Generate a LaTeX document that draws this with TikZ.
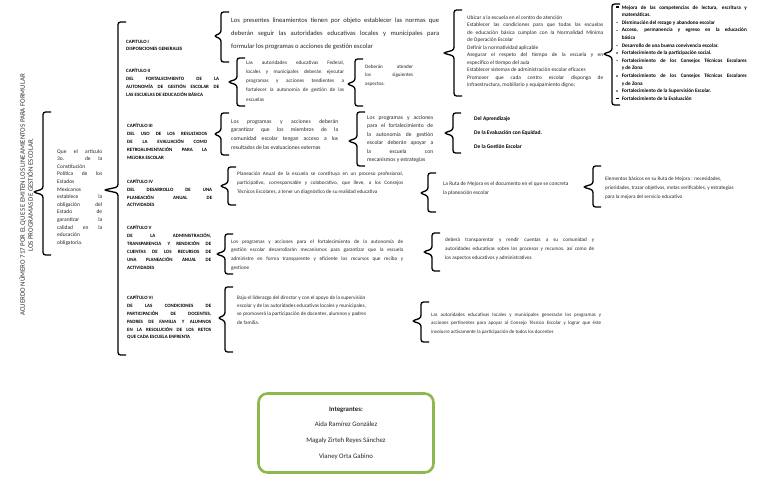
\documentclass[tikz,border=0pt]{standalone}
\usepackage{fontspec}
\setmainfont{Carlito}
\usetikzlibrary{positioning}

\definecolor{verde}{RGB}{141,184,78}

\tikzset{
  llave/.style={line width=1.3pt, rounded corners=2.5pt},
  capit/.style={anchor=north west, inner sep=0pt, align=justify, font=\fontsize{4.9}{8}\selectfont\bfseries},
  texto/.style={anchor=north west, inner sep=0pt, align=justify, text=black!85},
}

% llave: x del trazo, arriba, abajo, y de la punta, profundidad
\newcommand{\llave}[5]{%
  \draw[llave] (#1+8,#2) -- (#1,#2) -- (#1,#4-3) -- (#1-#5,#4) -- (#1,#4+3) -- (#1,#3) -- (#1+8,#3);}
\newcommand{\mrk}{\textcolor{black!45}{\rule[0.3ex]{2pt}{1.4pt}}}
\newcommand{\mrkb}{\textcolor{black}{\rule[0.3ex]{2.6pt}{1.8pt}}}

\begin{document}
\begin{tikzpicture}[x=1pt, y=-1pt]
        \useasboundingbox (0,0) rectangle (768,497);
        \fill[white] (0,0) rectangle (768,497);

        \node[rotate=90, align=center, font=\fontsize{6.9}{8}\selectfont, text=black!80] (titulo) at (26,195)
        {ACUERDO NÚMERO 717 POR EL QUE SE EMITEN LOS LINEAMIENTOS PARA FORMULAR\\LOS PROGRAMAS DE GESTIÓN ESCOLAR.};
        \llave{43}{112}{255}{192}{10}
        \node[texto, text width=45pt, font=\fontsize{5.5}{7.6}\selectfont] (considerando) at (57,149)
        {Que el artículo\linebreak 3o. de la\linebreak Constitución\linebreak Política de los\linebreak Estados\linebreak
        Mexicanos\linebreak establece la\linebreak obligación del\linebreak Estado de\linebreak garantizar la\linebreak
        calidad en la\linebreak educación\linebreak obligatoria.};

        \llave{118}{22}{355}{190}{14}

        % capitulos
        \node[capit, font=\fontsize{4.9}{7}\selectfont\bfseries] (cap1) at (126,40.5) {CAPITULO I\\DISPOSICIONES GENERALES};
        \node[capit, text width=93pt] (cap2) at (126,68.5) {CAPÍTULO II\\DEL FORTALECIMIENTO DE LA\linebreak AUTONOMÍA DE GESTIÓN ESCOLAR DE\linebreak LAS ESCUELAS DE EDUCACIÓN BÁSICA};
        \node[capit, text width=80pt] (cap3) at (127,123.5) {CAPÍTULO III\\DEL USO DE LOS RESULTADOS\linebreak DE LA EVALUACIÓN COMO\linebreak RETROALIMENTACIÓN PARA LA\linebreak MEJORA ESCOLAR};
        \node[capit, text width=85pt, font=\fontsize{4.9}{7.7}\selectfont\bfseries] (cap4) at (127,179.5) {CAPÍTULO IV\\DEL DESARROLLO DE UNA\linebreak PLANEACIÓN ANUAL DE\linebreak ACTIVIDADES};
        \node[capit, text width=84pt] (cap5) at (127,225.5) {CAPÍTULO V\\DE LA ADMINISTRACIÓN,\linebreak TRANSPARENCIA Y RENDICIÓN DE\linebreak CUENTAS DE LOS RECURSOS DE\linebreak UNA PLANEACIÓN ANUAL DE\linebreak ACTIVIDADES};
        \node[capit, text width=84pt, font=\fontsize{4.9}{7.8}\selectfont\bfseries] (cap6) at (127,295.5) {CAPÍTULO VI\\DE LAS CONDICIONES DE\linebreak PARTICIPACIÓN DE DOCENTES,\linebreak PADRES DE FAMILIA Y ALUMNOS\linebreak EN LA RESOLUCIÓN DE LOS RETOS\linebreak QUE CADA ESCUELA ENFRENTA};

        % capitulo I y II
        \llave{221}{12}{62}{36}{7}
        \node[texto, text width=208pt, font=\fontsize{6.6}{13}\selectfont] (t1) at (231,17.5)
        {Los presentes lineamientos tienen por objeto establecer las normas que\linebreak deberán seguir las autoridades educativas locales y municipales para\linebreak formular los programas o acciones de gestión escolar};
        \llave{237}{58}{106}{82}{9}
        \node[texto, text width=98pt, font=\fontsize{5.2}{9.2}\selectfont] (t2a) at (246,60.5)
        {Las autoridades educativas Federal,\linebreak locales y municipales deberán ejecutar\linebreak programas y acciones tendientes a\linebreak fortalecer la autonomía de gestión de las\linebreak escuelas};
        \llave{355}{59}{106}{84}{8}
        \node[texto, text width=48pt, font=\fontsize{5.1}{8.5}\selectfont] (t2b) at (365,64.5)
        {Deberán atender\linebreak los siguientes\linebreak aspectos:};
        \llave{454}{10}{96}{53}{11}
        \node[texto, text width=136pt, font=\fontsize{5.4}{7.5}\selectfont] (t2c) at (467,15.3)
        {Ubicar a la escuela en el centro de atención\\
        Establecer las condiciones para que todas las escuelas\linebreak de educación básica cumplan con la Normalidad Mínima\linebreak de Operación Escolar\\
        Definir la normatividad aplicable\\
        Asegurar el respeto del tiempo de la escuela y en\linebreak específico el tiempo del aula\\
        Establecer sistemas de administración escolar eficaces\\
        Promover que cada centro escolar disponga de\linebreak infraestructura, mobiliario y equipamiento digno;};
        \llave{612}{4}{105}{54}{9}
        \node[texto, text=black, font=\fontsize{5.2}{7.6}\selectfont\bfseries] (t2d) at (616,3.5)
        {\begin{tabular}{@{}l@{\hspace{3pt}}p{125pt}@{}}
        \mrkb & Mejora de las competencias de lectura, escritura y\linebreak matemáticas.\\
        \mrk & Disminución del rezago y abandono escolar\\
        \mrk & Acceso, permanencia y egreso en la educación\linebreak básica\\
        \mrk & Desarrollo de una buena convivencia escolar.\\
        \mrk & Fortalecimiento de la participación social.\\
        \mrk & Fortalecimiento de los Consejos Técnicos Escolares\linebreak y de Zona\\
        \mrk & Fortalecimiento de los Consejos Técnicos Escolares\linebreak y de Zona\\
        \mrk & Fortalecimiento de la Supervisión Escolar.\\
        \mrkb & Fortalecimiento de la Evaluación
        \end{tabular}};

        % capitulo III
        \llave{221}{113}{155}{134}{7}
        \node[texto, text width=107pt, font=\fontsize{5.6}{8.6}\selectfont] (t3a) at (231,119.2)
        {Los programas y acciones deberán\linebreak garantizar que los miembros de la\linebreak comunidad escolar tengan acceso a los\linebreak resultados de las evaluaciones externas};
        \llave{357}{112}{166}{141}{9}
        \node[texto, text width=66pt, font=\fontsize{5.6}{8.4}\selectfont] (t3b) at (367,115.5)
        {Los programas y acciones\linebreak para el fortalecimiento de\linebreak la autonomía de gestión\linebreak escolar deberán apoyar a\linebreak la escuela con\linebreak mecanismos y estrategias};
        \llave{453}{113}{153}{133}{9}
        \node[texto, align=left, text=black, font=\fontsize{5.5}{14}\selectfont\bfseries] (t3c) at (474,116.5)
        {Del Aprendizaje\\De la Evaluación con Equidad.\\De la Gestión Escolar};

        % capitulo IV
        \llave{228}{167}{205}{186}{8}
        \node[texto, text width=166pt, font=\fontsize{5.2}{9}\selectfont] (t4a) at (237,171.4)
        {Planeación Anual de la escuela se constituya en un proceso profesional,\linebreak participativo, corresponsable y colaborativo, que lleve, a los Consejos\linebreak Técnicos Escolares, a tener un diagnóstico de su realidad educativa};
        \llave{428}{173}{212}{193}{8}
        \node[texto, align=left, font=\fontsize{5.4}{9}\selectfont] (t4b) at (443,181.3)
        {La Ruta de Mejora es el documento en el que se concreta\\la planeación escolar};
        \llave{593}{166}{207}{187}{10}
        \node[texto, align=left, font=\fontsize{5.2}{9}\selectfont] (t4c) at (605,176.4)
        {Elementos básicos en su Ruta de Mejora : necesidades,\\prioridades, trazar objetivos, metas verificables, y estrategias\\para la mejora del servicio educativo};

        % capitulo V
        \llave{225}{234}{274}{254}{9}
        \node[texto, text width=172pt, font=\fontsize{5.2}{8.7}\selectfont] (t5a) at (231,239.4)
        {Los programas y acciones para el fortalecimiento de la autonomía de\linebreak gestión escolar desarrollarán mecanismos para garantizar que la escuela\linebreak administre en forma transparente y eficiente los recursos que reciba y\linebreak gestione};
        \llave{432}{233}{271}{252}{9}
        \node[texto, text width=149pt, font=\fontsize{5.2}{9}\selectfont] (t5b) at (445,237.4)
        {deberá transparentar y rendir cuentas a su comunidad y\linebreak autoridades educativas sobre los procesos y recursos, así como de\linebreak los aspectos educativos y administrativos};

        % capitulo VI
        \llave{225}{287}{352}{318}{7}
        \node[texto, align=left, font=\fontsize{5.2}{8.3}\selectfont] (t6a) at (237,295.4)
        {Bajo el liderazgo del director y con el apoyo de la supervisión\\escolar y de las autoridades educativas locales y municipales,\\se promoverá la participación de docentes, alumnos y padres\\de familia.};
        \llave{421}{302}{342}{321}{9}
        \node[texto, text width=170pt, font=\fontsize{5}{8.8}\selectfont] (t6b) at (431,312.5)
        {Las autoridades educativas locales y municipales generarán los programas y\linebreak acciones pertinentes para apoyar al Consejo Técnico Escolar y lograr que éste\linebreak involucre activamente la participación de todos los docentes};

        % integrantes
        \node[draw=verde, line width=2.6pt, rounded corners=9pt, minimum width=175pt, minimum height=79pt,
        align=center, text=black!85, font=\fontsize{6.8}{15.7}\selectfont] (integrantes) at (346,433)
        {\textbf{Integrantes:}\\Aida Ramírez González\\Magaly Zirteh Reyes Sánchez\\Vianey Orta Gabino};
\end{tikzpicture}
\end{document}
